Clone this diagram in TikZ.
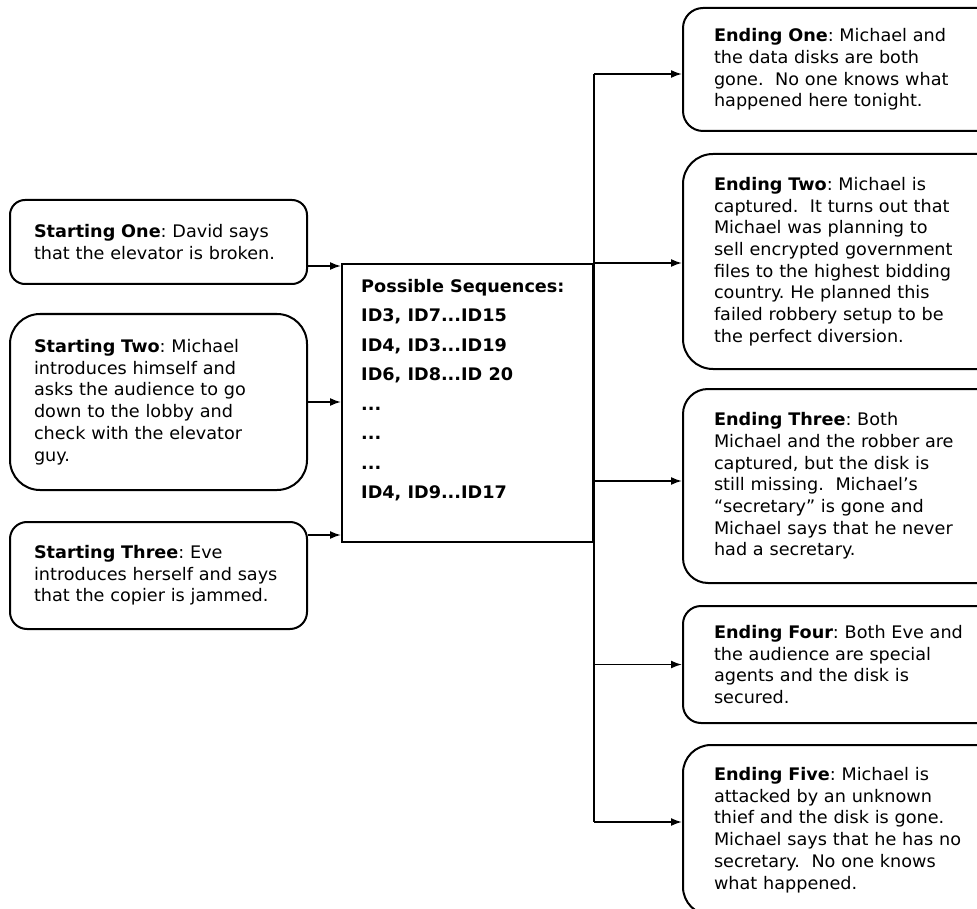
\documentclass[tikz,border=0pt]{standalone}
\usepackage{fontspec}
\setmainfont[FakeStretch=1.02]{DejaVu Sans}
\usetikzlibrary{arrows.meta,calc}
\frenchspacing
\begin{document}
\begin{tikzpicture}[x=1pt,y=-1pt,
  txt/.style={font={\frenchspacing\fontsize{17.3}{21.7}\selectfont}},
  card/.style={draw=black,line width=2pt,txt,align=left,anchor=north west,inner ysep=0pt},
  startcard/.style={card,inner xsep=24pt,text width=249pt,minimum width=297pt},
  endcard/.style={card,inner xsep=31pt,text width=262pt,minimum width=297pt},
  conn/.style={line width=1.7pt,-{Latex[length=11pt,width=8pt]}},
  bus/.style={line width=1.9pt}]
\useasboundingbox (0,0) rectangle (977,909);
\clip (0,0) rectangle (977,909);
% starting cards
\node[startcard,rounded corners=15pt,minimum height=84pt] (s1) at (9,199)
  {\textbf{Starting One}: David says\\that the elevator is broken.};
\node[startcard,rounded corners=30pt,minimum height=176pt] (s2) at (9,313)
  {\textbf{Starting Two}: Michael\\introduces himself and\\asks the audience to go\\down to the lobby and\\check with the elevator\\guy.};
\node[startcard,rounded corners=17pt,minimum height=107pt] (s3) at (9,521)
  {\textbf{Starting Three}: Eve\\introduces herself and says\\that the copier is jammed.};
% sequences box
\node[draw=black,line width=1.8pt,anchor=north west,minimum width=251pt,minimum height=278pt,inner sep=0pt] (seq) at (341,263) {};
\node[anchor=north west,align=left,inner sep=0pt,font={\fontsize{17.3}{29.5}\selectfont\bfseries}] (seqtxt) at (361,279)
  {Possible Sequences:\\ID3, ID7...ID15\\ID4, ID3...ID19\\ID6, ID8...ID 20\\...\\...\\...\\ID4, ID9...ID17};
% ending cards
\node[endcard,rounded corners=20pt,minimum height=123pt] (e1) at (682,7)
  {\textbf{Ending One}: Michael and\\the data disks are both\\gone.\ \ No one knows what\\happened here tonight.};
\node[endcard,rounded corners=30pt,minimum height=215pt] (e2) at (682,153)
  {\textbf{Ending Two}: Michael is\\captured.\ \ It turns out that\\Michael was planning to\\sell encrypted government\\files to the highest bidding\\country. He planned this\\failed robbery setup to be\\the perfect diversion.};
\node[endcard,rounded corners=25pt,minimum height=194pt] (e3) at (682,388)
  {\textbf{Ending Three}: Both\\Michael and the robber are\\captured, but the disk is\\still missing.\ \ Michael’s\\“secretary” is gone and\\Michael says that he never\\had a secretary.};
\node[endcard,rounded corners=18pt,minimum height=117pt] (e4) at (682,605)
  {\textbf{Ending Four}: Both Eve and\\the audience are special\\agents and the disk is\\secured.};
\node[endcard,rounded corners=28pt,minimum height=170pt] (e5) at (682,744)
  {\textbf{Ending Five}: Michael is\\attacked by an unknown\\thief and the disk is gone.\\Michael says that he has no\\secretary.\ \ No one knows\\what happened.};
% connectors in
\coordinate (a1) at ($(s1.north east)+(0,67)$);
\draw[conn] (a1) -- (a1 -| seq.west);
\draw[conn] (s2.east) -- (s2.east -| seq.west);
\coordinate (a3) at ($(s3.north east)+(0,14)$);
\draw[conn] (a3) -- (a3 -| seq.west);
% bus and connectors out
\coordinate (b1) at ($(e1.west)+(0,4.5)$);
\coordinate (b3) at ($(e3.west)+(0,-5)$);
\coordinate (b5) at ($(e5.north west)+(0,78)$);
\draw[bus] (b1 -| seq.east) -- (b5 -| seq.east);
\draw[conn] (b1 -| seq.east) -- (b1);
\draw[conn] (seq.north east) -- (seq.north east -| e2.west);
\draw[conn] (b3 -| seq.east) -- (b3);
\draw[conn] (e4.west -| seq.east) -- (e4.west);
\draw[conn] (b5 -| seq.east) -- (b5);
\end{tikzpicture}
\end{document}
